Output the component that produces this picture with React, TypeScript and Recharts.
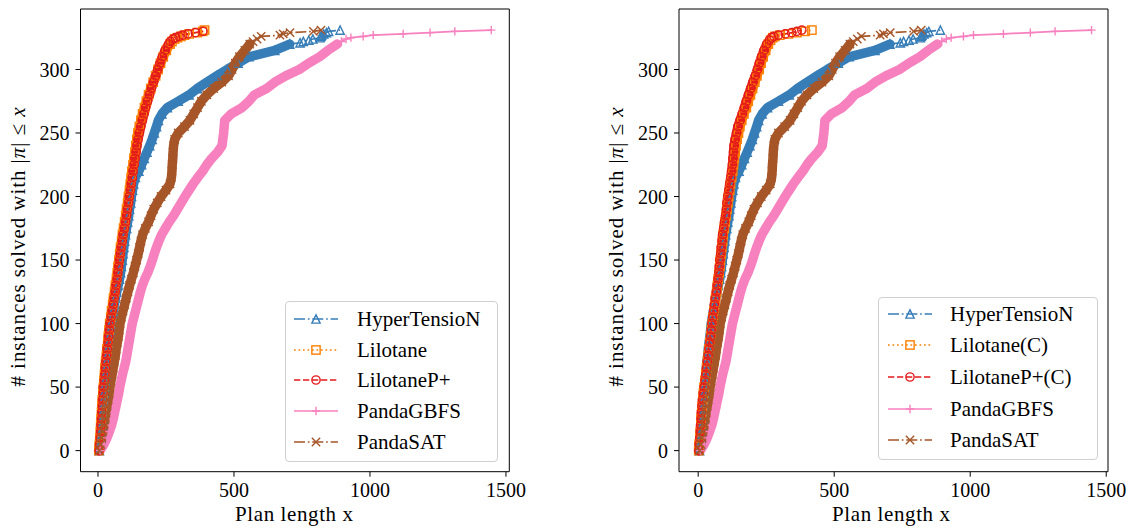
import React from 'react';
import { LineChart, Line, XAxis, YAxis, ReferenceArea } from 'recharts';

const FONT = "'Liberation Serif', 'DejaVu Serif', serif";

// number of instances solved (y) for the densely sampled part of every curve
const solvedBase = [
  0, 5, 10, 15, 20, 25, 30, 35, 40, 45,
  50, 55, 60, 65, 70, 75, 80, 85, 90, 95,
  100, 105, 110, 115, 120, 125, 130, 135, 140, 145,
  150, 155, 160, 165, 170, 175, 180, 185, 190, 195,
  200, 205, 210, 215, 220, 225, 230, 235, 240, 245,
  250, 255, 260, 265, 270, 275, 280, 285, 290, 295,
  300, 305, 310, 315, 320,
];

// HyperTensioN (same in both panels) – plan lengths
const htnBaseLen = [
  5, 8, 10, 12, 14, 16, 17, 19, 21, 22,
  23, 26, 28, 30, 32, 35, 37, 40, 43, 46,
  48, 52, 56, 60, 64, 69, 74, 79, 83, 86,
  89, 92, 95, 98, 101, 105, 109, 113, 116, 120,
  123, 127, 131, 137, 150, 160, 170, 180, 190, 199,
  207, 215, 222, 235, 255, 295, 335, 365, 400, 437,
  475, 515, 555, 650, 705,
];
const htnTailSolved = [321, 322, 323, 324, 325, 326, 327, 328, 329, 330, 331];
const htnTailLen = [743, 755, 775, 790, 816, 820, 822, 830, 840, 848, 890];

// PandaSAT (same in both panels)
const satBaseLen = [
  5, 10, 14, 18, 22, 26, 29, 33, 37, 41,
  44, 48, 52, 56, 60, 64, 67, 71, 75, 78,
  81, 86, 92, 98, 104, 110, 116, 123, 130, 136,
  142, 148, 153, 158, 164, 174, 186, 195, 205, 218,
  232, 250, 265, 270, 272, 273, 275, 276, 278, 282,
  295, 318, 338, 352, 366, 380, 400, 425, 455, 480,
  493, 505, 520, 540, 558,
];
const satTailSolved = [322, 324, 326, 327, 328, 329, 330, 331];
const satTailLen = [570, 585, 600, 669, 681, 706, 792, 820];

// PandaGBFS (same in both panels)
const gbfsBaseLen = [
  8, 22, 33, 42, 50, 56, 61, 66, 71, 76,
  80, 85, 90, 96, 102, 106, 110, 114, 118, 122,
  126, 132, 138, 144, 150, 156, 163, 172, 183, 192,
  200, 207, 215, 224, 234, 248, 262, 278, 292, 306,
  320, 335, 350, 367, 385, 400, 418, 440, 456, 459,
  462, 464, 466, 490, 530, 555, 575, 620, 650, 690,
  740, 775, 815, 845, 880,
];
const gbfsTailSolved = [322, 324, 325, 326, 327, 328, 329, 330, 331];
const gbfsTailLen = [895, 912, 930, 975, 1012, 1122, 1221, 1312, 1446];

// Lilotane (left panel)
const liloBaseLen = [
  3, 5, 7, 9, 10, 12, 13, 15, 16, 18,
  20, 22, 24, 26, 28, 31, 33, 36, 38, 41,
  43, 47, 50, 54, 57, 61, 64, 68, 71, 74,
  77, 80, 83, 87, 90, 94, 98, 102, 105, 109,
  112, 116, 119, 122, 125, 129, 132, 136, 139, 143,
  147, 152, 158, 164, 171, 178, 186, 194, 203, 212,
  221, 230, 240, 251, 265,
];
const liloTailSolved = [322, 324, 325, 326, 327, 328, 329, 330, 331];
const liloTailLen = [272, 282, 292, 305, 318, 335, 365, 385, 392];

// LilotaneP+ (left panel)
const liloPBaseLen = [
  4, 6, 8, 10, 11, 13, 14, 16, 17, 19,
  20, 23, 25, 27, 29, 32, 34, 37, 39, 42,
  44, 48, 52, 56, 59, 63, 66, 70, 73, 76,
  79, 82, 85, 89, 92, 97, 101, 105, 108, 112,
  115, 119, 122, 126, 129, 133, 136, 140, 143, 147,
  152, 157, 163, 169, 175, 182, 189, 196, 204, 212,
  220, 228, 237, 247, 260,
];
const liloPTailSolved = [322, 324, 325, 326, 327, 328, 329, 330];
const liloPTailLen = [266, 276, 285, 298, 312, 331, 358, 386];

// Lilotane(C) (right panel)
const liloCBaseLen = [
  2, 4, 6, 8, 10, 11, 13, 15, 17, 19,
  22, 25, 28, 31, 34, 37, 40, 43, 46, 49,
  52, 55, 58, 61, 64, 68, 71, 74, 77, 80,
  82, 85, 87, 90, 92, 96, 99, 103, 106, 109,
  112, 116, 119, 123, 127, 130, 133, 136, 139, 143,
  148, 153, 160, 168, 177, 184, 192, 200, 208, 216,
  224, 231, 239, 248, 258,
];
const liloCTailSolved = [323, 325, 326, 327, 328, 329, 330, 331];
const liloCTailLen = [266, 274, 282, 300, 332, 363, 393, 418];

// LilotaneP+(C) (right panel)
const liloPCBaseLen = [
  2, 4, 6, 8, 9, 11, 12, 14, 16, 19,
  22, 25, 28, 31, 34, 37, 40, 43, 46, 49,
  51, 54, 57, 60, 63, 67, 70, 73, 76, 78,
  80, 83, 85, 88, 90, 94, 97, 101, 104, 106,
  109, 113, 116, 120, 123, 126, 128, 130, 132, 136,
  141, 146, 154, 162, 170, 177, 185, 193, 201, 210,
  218, 225, 233, 242, 252,
];
const liloPCTailSolved = [323, 325, 326, 327, 328, 329, 330, 331];
const liloPCTailLen = [262, 270, 278, 295, 320, 344, 363, 381];

const xTicks = [0, 500, 1000, 1500];
const yTicks = [0, 50, 100, 150, 200, 250, 300];
const Y_DOMAIN: [number, number] = [-16.6, 347.6];
const DENSE_MAX = 320;

type MarkerKind = 'tri' | 'sq' | 'circ' | 'plus' | 'x';
type Series = {
  name: string;
  color: string;
  dash?: string;
  marker: MarkerKind;
  len: number[];
  solved: number[];
};

const BLUE = '#377eb8';
const ORANGE = '#ff7f00';
const RED = '#e41a1c';
const PINK = '#f781bf';
const BROWN = '#a65628';

const DASHDOT = '11 2.8 1.7 2.8';
const DOTTED = '1.7 2.8';
const DASHED = '6.3 2.7';
const LW = 1.7;

const htn: Series = { name: 'HyperTensioN', color: BLUE, dash: DASHDOT, marker: 'tri', len: [...htnBaseLen, ...htnTailLen], solved: [...solvedBase, ...htnTailSolved] };
const gbfs: Series = { name: 'PandaGBFS', color: PINK, marker: 'plus', len: [...gbfsBaseLen, ...gbfsTailLen], solved: [...solvedBase, ...gbfsTailSolved] };
const sat: Series = { name: 'PandaSAT', color: BROWN, dash: DASHDOT, marker: 'x', len: [...satBaseLen, ...satTailLen], solved: [...solvedBase, ...satTailSolved] };

const leftSeries: Series[] = [
  htn,
  { name: 'Lilotane', color: ORANGE, dash: DOTTED, marker: 'sq', len: [...liloBaseLen, ...liloTailLen], solved: [...solvedBase, ...liloTailSolved] },
  { name: 'LilotaneP+', color: RED, dash: DASHED, marker: 'circ', len: [...liloPBaseLen, ...liloPTailLen], solved: [...solvedBase, ...liloPTailSolved] },
  gbfs,
  sat,
];

const rightSeries: Series[] = [
  htn,
  { name: 'Lilotane(C)', color: ORANGE, dash: DOTTED, marker: 'sq', len: [...liloCBaseLen, ...liloCTailLen], solved: [...solvedBase, ...liloCTailSolved] },
  { name: 'LilotaneP+(C)', color: RED, dash: DASHED, marker: 'circ', len: [...liloPCBaseLen, ...liloPCTailLen], solved: [...solvedBase, ...liloPCTailSolved] },
  gbfs,
  sat,
];

const R = 4.15;
const MEW = 1.4;

function MarkerShape({ kind, cx, cy, color }: { kind: MarkerKind; cx: number; cy: number; color: string }) {
  switch (kind) {
    case 'tri':
      return <polygon points={`${cx},${cy - R} ${cx - R},${cy + R} ${cx + R},${cy + R}`} fill="none" stroke={color} strokeWidth={MEW} strokeLinejoin="miter" />;
    case 'sq':
      return <rect x={cx - R} y={cy - R} width={2 * R} height={2 * R} fill="none" stroke={color} strokeWidth={MEW} />;
    case 'circ':
      return <circle cx={cx} cy={cy} r={R} fill="none" stroke={color} strokeWidth={MEW} />;
    case 'plus':
      return (
        <g stroke={color} strokeWidth={MEW}>
          <line x1={cx - R} y1={cy} x2={cx + R} y2={cy} />
          <line x1={cx} y1={cy - R} x2={cx} y2={cy + R} />
        </g>
      );
    case 'x':
    default:
      return (
        <g stroke={color} strokeWidth={MEW}>
          <line x1={cx - R} y1={cy - R} x2={cx + R} y2={cy + R} />
          <line x1={cx - R} y1={cy + R} x2={cx + R} y2={cy - R} />
        </g>
      );
  }
}

function Panel({ series, xDomain, width, marginLeft, marginRight }: { series: Series[]; xDomain: [number, number]; width: number; marginLeft: number; marginRight: number }) {
  const tickStyle = { fill: '#000', fontSize: 20, fontFamily: FONT };
  const lines: React.ReactNode[] = [];
  series.forEach((s) => {
    const pts = s.len.map((x, i) => ({ x, y: s.solved[i] }));
    const dense = pts.filter((p) => p.y <= DENSE_MAX);
    lines.push(
      <Line
        key={s.name + '-band'}
        data={dense}
        dataKey="y"
        type="linear"
        stroke={s.color}
        strokeWidth={9.5}
        strokeLinejoin="round"
        strokeLinecap="round"
        dot={false}
        activeDot={false}
        legendType="none"
        isAnimationActive={false}
      />
    );
    lines.push(
      <Line
        key={s.name}
        data={pts}
        dataKey="y"
        name={s.name}
        type="linear"
        stroke={s.color}
        strokeWidth={LW}
        strokeDasharray={s.dash}
        dot={(p: any) => {
          if (p.cx == null || p.cy == null) return <g key={`e-${p.index}`} />;
          return (
            <g key={`m-${p.index}`}>
              <MarkerShape kind={s.marker} cx={p.cx} cy={p.cy} color={s.color} />
            </g>
          );
        }}
        activeDot={false}
        isAnimationActive={false}
      />
    );
  });
  return (
    <LineChart width={width} height={528} margin={{ top: 9, right: marginRight, bottom: 26.3, left: marginLeft }}>
      <XAxis
        type="number"
        dataKey="x"
        domain={xDomain}
        ticks={xTicks}
        interval={0}
        allowDataOverflow
        axisLine={false}
        tickLine={{ stroke: '#000', strokeWidth: 1 }}
        tickSize={5}
        tickMargin={6}
        tick={tickStyle}
        height={30}
      />
      <YAxis
        type="number"
        domain={Y_DOMAIN}
        ticks={yTicks}
        interval={0}
        allowDataOverflow
        axisLine={false}
        tickLine={{ stroke: '#000', strokeWidth: 1 }}
        tickSize={5}
        tickMargin={6}
        tick={tickStyle}
        width={60}
      />
      {lines}
      <ReferenceArea
        x1={xDomain[0]}
        x2={xDomain[1]}
        y1={Y_DOMAIN[0]}
        y2={Y_DOMAIN[1]}
        fill="none"
        fillOpacity={0}
        stroke="#000"
        strokeWidth={1}
        ifOverflow="visible"
      />
    </LineChart>
  );
}

function LegendBox({ series, left, top, width, height, firstRow, rowGap, handleLeft, textLeft }: { series: Series[]; left: number; top: number; width: number; height: number; firstRow: number; rowGap: number; handleLeft: number; textLeft: number }) {
  return (
    <div
      style={{
        position: 'absolute',
        left,
        top,
        width,
        height,
        boxSizing: 'border-box',
        border: '1px solid #d0d0d0',
        borderRadius: 4,
        background: 'rgba(255,255,255,0.8)',
        fontFamily: FONT,
        fontSize: 21,
        color: '#000',
      }}
    >
      {series.map((s, i) => {
        const rowTop = firstRow + i * rowGap - 15 - top;
        return (
          <div key={s.name} style={{ position: 'absolute', left: 0, top: rowTop, height: 30, width: '100%' }}>
            <svg width={44} height={30} style={{ position: 'absolute', left: handleLeft, top: 0 }}>
              <line x1={0} y1={15} x2={44} y2={15} stroke={s.color} strokeWidth={LW} strokeDasharray={s.dash} />
              <MarkerShape kind={s.marker} cx={22} cy={15} color={s.color} />
            </svg>
            <span style={{ position: 'absolute', left: textLeft, top: 0, lineHeight: '30px', whiteSpace: 'nowrap' }}>{s.name}</span>
          </div>
        );
      })}
    </div>
  );
}

function YLabel({ x, y }: { x: number; y: number }) {
  return (
    <text transform={`translate(${x},${y}) rotate(-90)`} textAnchor="middle" fontSize={21} fontFamily={FONT} fill="#000" textLength={279} lengthAdjust="spacing">
      # instances solved with |<tspan fontStyle="italic">π</tspan>| ≤ <tspan fontStyle="italic">x</tspan>
    </text>
  );
}

export default function App() {
  return (
    <div style={{ position: 'absolute', left: 0, top: 0, width: 1130, height: 528, background: '#fff', overflow: 'hidden' }}>
      <div style={{ position: 'absolute', left: 0, top: 0 }}>
        <Panel series={leftSeries} xDomain={[-64.3, 1512.3]} width={560} marginLeft={20.5} marginRight={50.7} />
      </div>
      <div style={{ position: 'absolute', left: 560, top: 0 }}>
        <Panel series={rightSeries} xDomain={[-70.5, 1506.5]} width={570} marginLeft={59} marginRight={22} />
      </div>
      <svg width={1130} height={528} style={{ position: 'absolute', left: 0, top: 0, pointerEvents: 'none' }}>
        <YLabel x={25} y={247} />
        <YLabel x={623} y={247} />
        <text x={294} y={521} textAnchor="middle" fontSize={21} fontFamily={FONT} fill="#000" textLength={118} lengthAdjust="spacing">Plan length x</text>
        <text x={891} y={521} textAnchor="middle" fontSize={21} fontFamily={FONT} fill="#000" textLength={118} lengthAdjust="spacing">Plan length x</text>
      </svg>
      <LegendBox series={leftSeries} left={284.5} top={300.7} width={213.5} height={161} firstRow={318.3} rowGap={30.6} handleLeft={8.2} textLeft={71.5} />
      <LegendBox series={rightSeries} left={878} top={296.5} width={219.5} height={163.5} firstRow={312.8} rowGap={31.6} handleLeft={8.5} textLeft={71} />
    </div>
  );
}
